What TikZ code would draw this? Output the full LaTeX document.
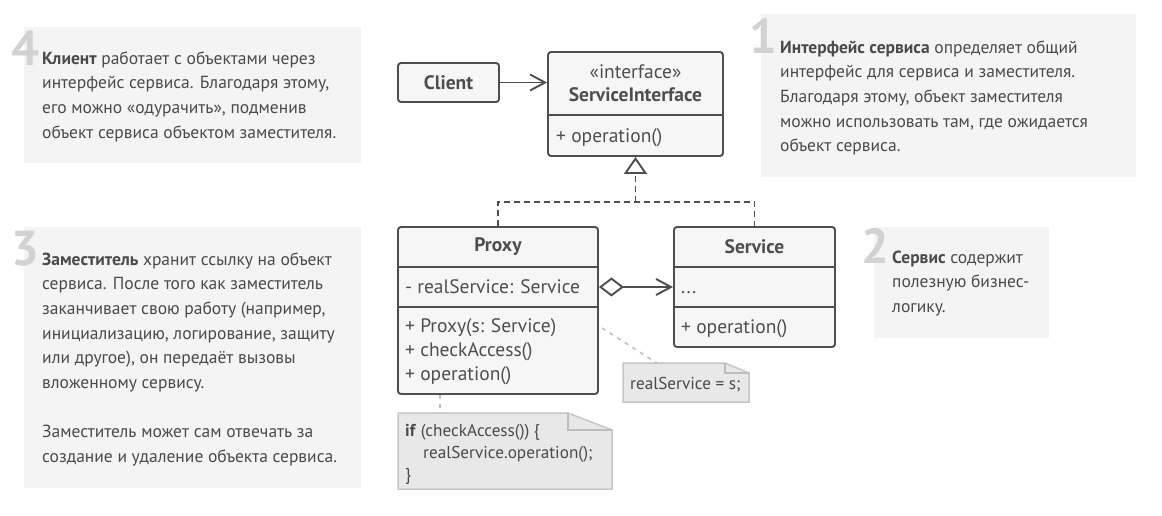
\documentclass[tikz,border=0pt]{standalone}
\usepackage{fontspec}
\setmainfont{PT Sans}
\usetikzlibrary{arrows.meta}
\definecolor{boxbg}{HTML}{F4F4F4}
\definecolor{numc}{HTML}{D2D2D2}
\definecolor{txt}{HTML}{4A4A4A}
\definecolor{umlline}{HTML}{4E4E4E}
\definecolor{umlfill}{HTML}{F6F6F6}
\definecolor{notefill}{HTML}{E8E8E8}
\definecolor{noteline}{HTML}{C6C6C6}
\definecolor{dotc}{HTML}{BDBDBD}
\tikzset{
  infobox/.style={fill=boxbg, draw=none},
  num/.style={font=\fontsize{49}{49}\selectfont\bfseries, text=numc, inner sep=0pt, anchor=base east},
  para/.style={font=\fontsize{17.5}{24.7}\selectfont, text=txt, inner sep=0pt, anchor=base west},
  cls/.style={draw=umlline, fill=umlfill, line width=1.9pt, rounded corners=3pt, inner sep=0pt},
  divline/.style={draw=umlline, line width=1.9pt},
  ctitle/.style={font=\fontsize{19.5}{19.5}\selectfont\bfseries, text=umlline, inner sep=0pt},
  cmem/.style={font=\fontsize{19.5}{19.5}\selectfont, text=umlline, inner sep=0pt, anchor=base west},
  openhead/.style={-{Straight Barb[length=15pt, width=16pt, line width=1.9pt]}},
  assoc/.style={draw=umlline, line width=1.9pt, openhead},
  realize/.style={draw=umlline, line width=1.9pt, dash pattern=on 6pt off 4pt},
  notebox/.style={fill=notefill, draw=noteline, line width=1.5pt, line join=miter},
  notetxt/.style={font=\fontsize{17.2}{17.2}\selectfont, text=txt, inner sep=0pt, anchor=base west},
  noteline/.style={draw=dotc, line width=1.5pt, dash pattern=on 4pt off 5pt}
}
\begin{document}
\begin{tikzpicture}[x=1pt,y=-1pt]
\useasboundingbox (0,0) rectangle (1162,515);
\fill[white] (0,0) rectangle (1162,515);

% ---- info box 4
\path[infobox] (24,27) rectangle (361,163);
\node[num] (n4) at (39,65) {4};
\node[para] (t4) at (42,64) {\vtop{\hbox{\textbf{Клиент} работает с объектами через}\hbox{интерфейс сервиса. Благодаря этому,}\hbox{его можно «одурачить», подменив}\hbox{объект сервиса объектом заместителя.}}};

% ---- info box 1
\path[infobox] (761,14) rectangle (1136,177);
\node[num] (n1) at (777,53) {1};
\node[para] (t1) at (780,53) {\vtop{\hbox{\textbf{Интерфейс сервиса} определяет общий}\hbox{интерфейс для сервиса и заместителя.}\hbox{Благодаря этому, объект заместителя}\hbox{можно использовать там, где ожидается}\hbox{объект сервиса.}}};

% ---- info box 3
\path[infobox] (24,227) rectangle (361,488);
\node[num] (n3) at (39,265) {3};
\node[para] (t3) at (42,265) {\vtop{\hbox{\textbf{Заместитель} хранит ссылку на объект}\hbox{сервиса. После того как заместитель}\hbox{заканчивает свою работу (например,}\hbox{инициализацию, логирование, защиту}\hbox{или другое), он передаёт вызовы}\hbox{вложенному сервису.}\hbox{}\hbox{Заместитель может сам отвечать за}\hbox{создание и удаление объекта сервиса.}}};

% ---- info box 2
\path[infobox] (874,227) rectangle (1049,338);
\node[num] (n2) at (889,263) {2};
\node[para] (t2) at (892,263) {\vtop{\hbox{\textbf{Сервис} содержит}\hbox{полезную бизнес-}\hbox{логику.}}};

% ---- Client
\node[cls, minimum width=101pt, minimum height=39pt] (client) at (448.5,82.5) {};
\node[ctitle] at (client.center) {Client};

% ---- ServiceInterface
\node[cls, minimum width=175pt, minimum height=104pt] (si) at (635.5,104) {};
\draw[divline] (si.west |- 0,115) -- (si.east |- 0,115);
\node[font=\fontsize{19.5}{19.5}\selectfont, text=umlline, inner sep=0pt] at (635.5,72) {«interface»};
\node[ctitle] at (635.5,95) {ServiceInterface};
\node[cmem] at (556,142) {+ operation()};

% ---- Proxy
\node[cls, minimum width=200pt, minimum height=167pt] (proxy) at (498,310.5) {};
\draw[divline] (proxy.west |- 0,267) -- (proxy.east |- 0,267);
\draw[divline] (proxy.west |- 0,307) -- (proxy.east |- 0,307);
\node[ctitle] at (498,247) {Proxy};
\node[cmem] at (405,293) {- realService: Service};
\node[cmem] at (405,332) {+ Proxy(s: Service)};
\node[cmem] at (405,356) {+ checkAccess()};
\node[cmem] at (405,380) {+ operation()};

% ---- Service
\node[cls, minimum width=161pt, minimum height=120pt] (service) at (754.5,287) {};
\draw[divline] (service.west |- 0,267) -- (service.east |- 0,267);
\draw[divline] (service.west |- 0,307) -- (service.east |- 0,307);
\node[ctitle] at (754.5,247) {Service};
\node[cmem] at (681,293) {...};
\node[cmem] at (681,333) {+ operation()};

% ---- connectors
\draw[assoc] (client.east) -- (client.east -| si.west);
\coordinate (junc) at (635.5,202);
\draw[realize] (proxy.north) -- (proxy.north |- junc) -- (service.north |- junc) -- (service.north);
\draw[realize, -{Triangle[open, length=17pt, width=23pt, line width=1.9pt]}] (junc) -- (si.south);
\draw[assoc, {Diamond[open, length=25pt, width=19pt, line width=1.9pt]}-{Straight Barb[length=15pt, width=16pt, line width=1.9pt]}] (proxy.east |- 0,287) -- (service.west |- 0,287);

% ---- note realService = s;
\path[notebox] (623,363) -- (725,363) -- (749,373) -- (749,402) -- (623,402) -- cycle;
\draw[noteline, line width=1.3pt, solid] (725,363) -- (725,373) -- (749,373);
\node[notetxt] (note1) at (630,389) {realService = s;};
\coordinate (n1a) at (602,328);
\coordinate (n1b) at (657,363);
\draw[noteline] (n1a) -- (n1b);

% ---- note if
\path[notebox] (398,413) -- (568,413) -- (612,430) -- (612,489) -- (398,489) -- cycle;
\draw[noteline, line width=1.3pt, solid] (568,413) -- (568,430) -- (612,430);
\node[notetxt] (note2a) at (405,436) {\textbf{if} (checkAccess()) \{};
\node[notetxt] (note2b) at (423,458) {realService.operation();};
\node[notetxt] (note2c) at (405,480) {\}};
\coordinate (n2b) at (440,413);
\draw[noteline] (proxy.south -| n2b) -- (n2b);
\end{tikzpicture}
\end{document}
